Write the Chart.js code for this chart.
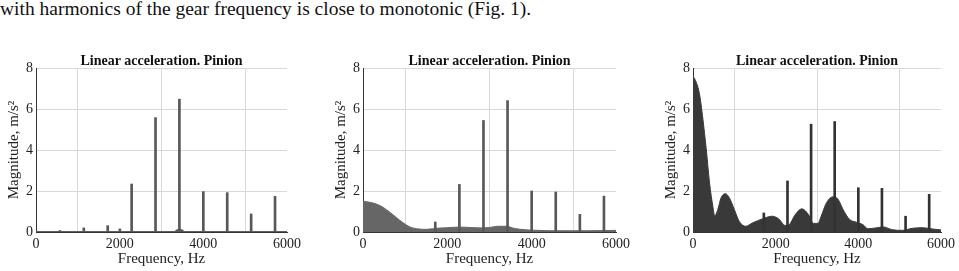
<!DOCTYPE html>
<html>
<head>
<meta charset="utf-8">
<script src="https://cdn.jsdelivr.net/npm/chart.js@4/dist/chart.umd.min.js"></script>
<style>
  body { margin: 0; background: #fff; width: 959px; height: 271px; overflow: hidden; position: relative; }
  #caption {
    position: absolute; left: 0; top: -2px; margin: 0;
    font-family: "Liberation Serif", "Times New Roman", serif; font-size: 19.5px; color: #111; white-space: nowrap;
  }
  canvas { position: absolute; top: 40px; }
</style>
</head>
<body>
<p id="caption">with harmonics of the gear frequency is close to monotonic (Fig. 1).</p>
<canvas id="chart-a" width="320" height="231" style="left:0px"></canvas>
<canvas id="chart-b" width="320" height="231" style="left:320px"></canvas>
<canvas id="chart-c" width="319" height="231" style="left:640px"></canvas>
<script>
const SERIF = '"Liberation Serif", "Times New Roman", serif';

const xTicks = [0, 2000, 4000, 6000];
const yTicks = [0, 2, 4, 6, 8];

// gear mesh frequency and its harmonics, Hz
const gearHarmonics = [571, 1143, 1714, 2286, 2857, 3428, 4000, 4571, 5143, 5714];

const peaksA = [0.07, 0.2, 0.31, 2.34, 5.58, 6.48, 1.97, 1.92, 0.88, 1.74];
const peaksB = [0, 0, 0.49, 2.32, 5.44, 6.41, 2.0, 1.95, 0.86, 1.75];
const peaksC = [0, 0, 0.93, 2.49, 5.26, 5.39, 2.16, 2.13, 0.77, 1.84];

const extraFreqsA = [2005];
const extraPeaksA = [0.15];

// broadband part of each spectrum
const bgFreqsA = [0, 3300, 3390, 3470, 3560, 6000];
const bgMagsA = [0.02, 0.02, 0.12, 0.12, 0.02, 0.02];

const bgFreqsB = [0, 160, 320, 480, 630, 790, 950, 1110, 1270, 1500, 1800, 2000, 2300, 2550, 2780, 3000, 3200, 3400, 3600, 3840, 4160, 4480, 5300, 6000];
const bgMagsB = [1.5, 1.45, 1.36, 1.2, 0.97, 0.71, 0.45, 0.25, 0.16, 0.13, 0.19, 0.21, 0.24, 0.22, 0.2, 0.22, 0.28, 0.28, 0.17, 0.11, 0.08, 0.06, 0.06, 0.08];

const bgFreqsC = [0, 80, 160, 240, 320, 400, 480, 525, 600, 680, 783, 878, 1000, 1117, 1277, 1436, 1676, 1915, 2074, 2234, 2314, 2474, 2633, 2793, 2913, 3020, 3100, 3231, 3391, 3511, 3630, 3790, 3949, 4109, 4229, 4428, 4588, 4827, 5066, 5306, 5545, 5785, 6000];
const bgMagsC = [7.6, 7.3, 6.7, 5.5, 4.05, 2.4, 1.26, 0.8, 1.1, 1.67, 1.87, 1.67, 1.1, 0.52, 0.28, 0.44, 0.64, 0.77, 0.64, 0.32, 0.34, 0.85, 1.13, 0.85, 0.42, 0.42, 0.77, 1.43, 1.72, 1.59, 1.1, 0.61, 0.48, 0.36, 0.16, 0.2, 0.25, 0.11, 0.08, 0.18, 0.21, 0.15, 0.1];

function toPoints(xs, ys) {
  return xs.map((x, i) => ({ x: x, y: ys[i] }));
}

function gridColor(c) {
  return c.tick && c.tick.value === 0 ? 'rgba(0,0,0,0)' : '#d9d9d9';
}

function createChartScales() {
  return {
    x: {
      type: 'linear',
      min: 0,
      max: 6000,
      offset: false,
      afterBuildTicks: (scale) => { scale.ticks = xTicks.map((v) => ({ value: v })); },
      afterFit: (scale) => { scale.height = 39; },
      ticks: {
        color: '#222',
        padding: 4,
        maxRotation: 0,
        font: { family: SERIF, size: 14 },
        callback: (value) => String(value),
      },
      grid: { drawTicks: false, color: gridColor },
      border: { display: true, color: '#333', width: 1 },
      title: {
        display: true,
        text: 'Frequency, Hz',
        color: '#222',
        font: { family: SERIF, size: 15, lineHeight: 1.2 },
        padding: { top: 2.5, bottom: 2.5 },
      },
    },
    y: {
      min: 0,
      max: 8,
      afterBuildTicks: (scale) => { scale.ticks = yTicks.map((v) => ({ value: v })); },
      afterFit: (scale) => { scale.width = 36; },
      ticks: {
        color: '#222',
        padding: 3,
        font: { family: SERIF, size: 14 },
        callback: (value) => String(value),
      },
      grid: { drawTicks: false, color: gridColor },
      border: { display: true, color: '#333', width: 1 },
      title: {
        display: true,
        text: 'Magnitude, m/s²',
        color: '#222',
        font: { family: SERIF, size: 15, lineHeight: 1.2 },
        padding: { top: 5.5, bottom: 5.5 },
      },
    },
  };
}

function createChartOptions(padLeft, padRight) {
  return {
    responsive: false,
    animation: false,
    layout: { padding: { left: padLeft, right: padRight, top: 0, bottom: 0 } },
    plugins: {
      legend: { display: false },
      tooltip: { enabled: false },
      title: {
        display: true,
        fullSize: false,
        text: 'Linear acceleration. Pinion',
        color: '#111',
        font: { family: SERIF, size: 14, weight: 'bold', lineHeight: 1 },
        padding: { top: 14, bottom: 0 },
      },
    },
    scales: createChartScales(),
  };
}

function createChartData(spec) {
  const datasets = [
    {
      type: 'bar',
      data: toPoints(spec.peakFreqs, spec.peaks),
      backgroundColor: spec.barColor,
      barThickness: 2,
      order: 0,
    },
    {
      type: 'line',
      data: toPoints(spec.bgFreqs, spec.bgMags),
      borderColor: spec.fillColor,
      backgroundColor: spec.fillColor,
      borderWidth: 1,
      pointRadius: 0,
      fill: 'origin',
      cubicInterpolationMode: 'monotone',
      order: 1,
    },
  ];
  return { datasets: datasets };
}

function createSpectrumChart(canvasId, spec) {
  const ctx = document.getElementById(canvasId).getContext('2d');
  return new Chart(ctx, {
    type: 'bar',
    data: createChartData(spec),
    options: createChartOptions(spec.padLeft, spec.padRight),
  });
}

createSpectrumChart('chart-a', {
  peakFreqs: gearHarmonics.concat(extraFreqsA),
  peaks: peaksA.concat(extraPeaksA),
  bgFreqs: bgFreqsA,
  bgMags: bgMagsA,
  barColor: '#585858',
  fillColor: '#585858',
  padLeft: 0,
  padRight: 33,
});

createSpectrumChart('chart-b', {
  peakFreqs: gearHarmonics,
  peaks: peaksB,
  bgFreqs: bgFreqsB,
  bgMags: bgMagsB,
  barColor: '#585858',
  fillColor: '#666666',
  padLeft: 7,
  padRight: 24,
});

createSpectrumChart('chart-c', {
  peakFreqs: gearHarmonics,
  peaks: peaksC,
  bgFreqs: bgFreqsC,
  bgMags: bgMagsC,
  barColor: '#333333',
  fillColor: '#393939',
  padLeft: 17,
  padRight: 15,
});
</script>
</body>
</html>
